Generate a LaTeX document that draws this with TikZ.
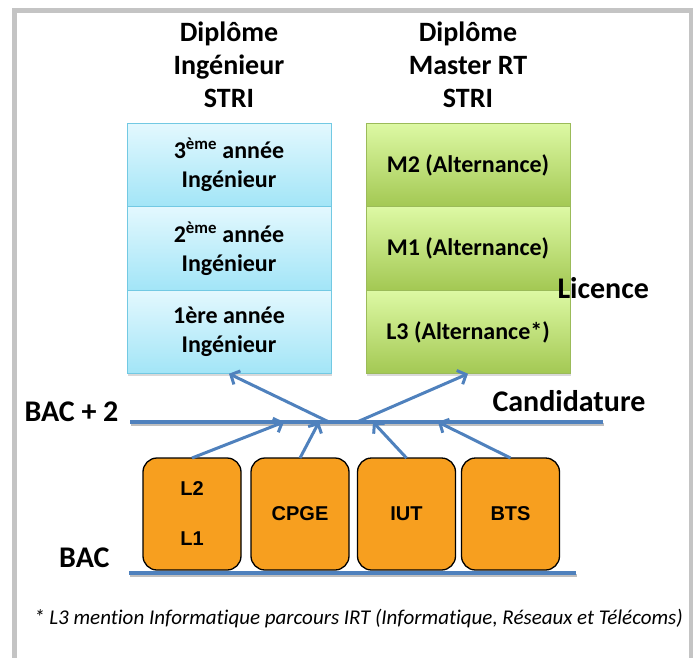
\documentclass[tikz,border=0pt]{standalone}
\usepackage{fontspec}
\setmainfont{Carlito}[Ligatures=NoCommon]
\newfontfamily\arialfont{Liberation Sans}
\usetikzlibrary{arrows.meta,positioning,shadows}

\definecolor{officeblue}{HTML}{4F81BD}
\definecolor{framegray}{HTML}{C4C4C4}
\definecolor{cyantop}{HTML}{E3F8FE}
\definecolor{cyanbot}{HTML}{A2E5F7}
\definecolor{cyanline}{HTML}{72C9E3}
\definecolor{greentop}{HTML}{DDF9A4}
\definecolor{greenbot}{HTML}{A3C853}
\definecolor{greenline}{HTML}{9BBB59}
\definecolor{bacorange}{HTML}{F79F1F}

\begin{document}
\begin{tikzpicture}[x=1pt, y=-1pt,
    yearbox/.style={line width=0.8, minimum width=204, minimum height=83.5, inner sep=0, outer sep=0,
        align=center, font=\fontsize{24}{29}\bfseries\selectfont,
        drop shadow={shadow xshift=1pt, shadow yshift=-2pt, opacity=0.3}},
    ingbox/.style={yearbox, draw=cyanline, top color=cyantop, bottom color=cyanbot},
    masterbox/.style={yearbox, draw=greenline, top color=greentop, bottom color=greenbot},
    prevbox/.style={draw=black, line width=1.3, fill=bacorange, rounded corners=14,
        minimum width=98, minimum height=112, inner sep=0, outer sep=0,
        align=center, font=\arialfont\bfseries\fontsize{20}{24}\selectfont},
    level/.style={font=\fontsize{30}{36}\bfseries\selectfont},
    title/.style={align=center, font=\fontsize{28}{33}\bfseries\selectfont},
    bar/.style={officeblue, line width=3.5,
        preaction={draw=black!25, line width=3.5, transform canvas={xshift=1pt, yshift=-2.5pt}}},
    flow/.style={officeblue, line width=3, -{Straight Barb[length=7pt, width=15pt, line width=3pt]}}]
    \useasboundingbox (0,0) rectangle (697,657);
    \draw[framegray, line width=4.5] (14.5,660) -- (14.5,10.5) -- (691,10.5) -- (691,660);

    % diplomas
    \node[title] (ingtitle) at (229,65) {Diplôme\\Ingénieur\\STRI};
    \node[title] (mastitle) at (468,65) {Diplôme\\Master RT\\STRI};

    % school years
    \node[ingbox] (ing3) at (229,165) {3\textsuperscript{ème} année\\Ingénieur};
    \node[ingbox, below=0pt of ing3] (ing2) {2\textsuperscript{ème} année\\Ingénieur};
    \node[ingbox, below=0pt of ing2] (ing1) {1ère année\\Ingénieur};
    \node[masterbox] (m2) at (468,165) {M2 (Alternance)};
    \node[masterbox, below=0pt of m2] (m1) {M1 (Alternance)};
    \node[masterbox, below=0pt of m1] (l3) {L3 (Alternance*)};
    \node[level, anchor=west] (licence) at (554,288) {Licence};

    % levels
    \coordinate (bac2w) at (130,422);
    \coordinate (bac2e) at (603,422);
    \coordinate (bacw) at (129,573);
    \coordinate (bace) at (576,573);
    \draw[bar] (bac2w) -- (bac2e);
    \draw[bar] (bacw) -- (bace);
    \node[level, anchor=east] (bac2) at (122,412) {BAC + 2};
    \node[level, anchor=east] (bac) at (113,558) {BAC};
    \node[level, anchor=west] (cand) at (489,401) {Candidature};

    % previous studies
    \node[prevbox] (licbox) at (192,514) {L2\\[26pt]L1};
    \node[prevbox] (cpge) at (300,514) {CPGE};
    \node[prevbox] (iut) at (406.5,514) {IUT};
    \node[prevbox] (bts) at (510.5,514) {BTS};

    % candidature arrows
    \coordinate (in1) at (284,422);
    \coordinate (in2) at (319,422);
    \coordinate (in3) at (373,422);
    \coordinate (in4) at (438,422);
    \coordinate (out1) at (329,422);
    \coordinate (out2) at (357,422);
    \draw[flow] (licbox.north) -- (in1);
    \draw[flow] (cpge.north) -- (in2);
    \draw[flow] (iut.north) -- (in3);
    \draw[flow] (bts.north) -- (in4);
    \draw[flow] (out1) -- (ing1.south);
    \draw[flow] (out2) -- (l3.south);

    \node[font=\itshape\fontsize{21}{25}\selectfont] (note) at (358.5,619)
        {* L3 mention Informatique parcours IRT (Informatique, Réseaux et Télécoms)};
\end{tikzpicture}
\end{document}
